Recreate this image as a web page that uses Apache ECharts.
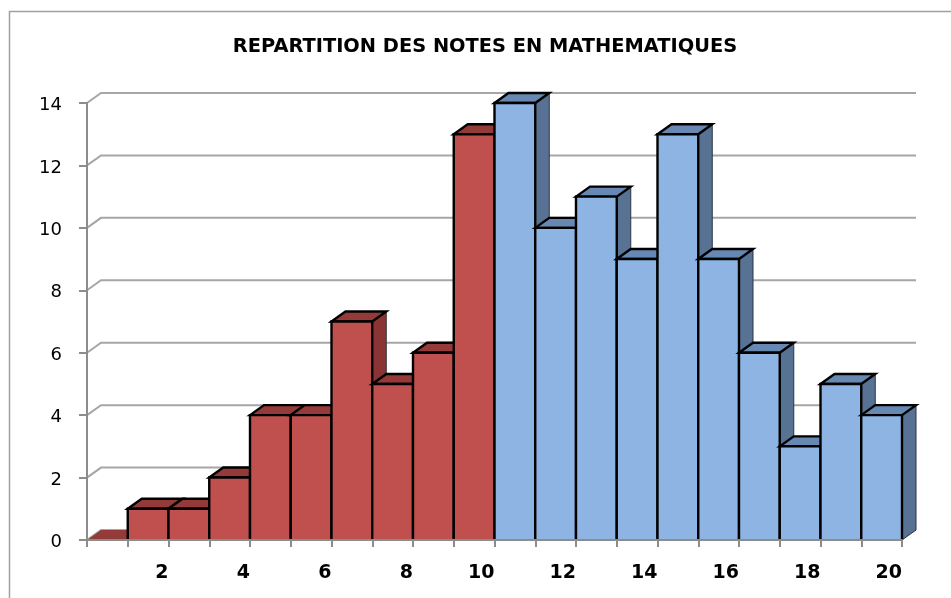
<!DOCTYPE html>
<html>
<head>
<meta charset="utf-8">
<style>
  html, body { margin: 0; padding: 0; background: #fff; }
  #chart { width: 951px; height: 598px; }
</style>
<script src="https://cdn.jsdelivr.net/npm/echarts@6/dist/echarts.min.js"></script>
</head>
<body>
<div id="chart"></div>
<script>
const notes = [1, 2, 3, 4, 5, 6, 7, 8, 9, 10, 11, 12, 13, 14, 15, 16, 17, 18, 19, 20];
const effectifs = [0, 1, 1, 2, 4, 4, 7, 5, 6, 13, 14, 10, 11, 9, 13, 9, 6, 3, 5, 4];
const yTicks = [0, 2, 4, 6, 8, 10, 12, 14];

// fake 3D depth, in pixels
const DX = 14;
const DY = -10;
const red = { front: "#C0504D", top: "#943A38", side: "#8A3533" };
const blue = { front: "#8DB4E3", top: "#6688B3", side: "#587294" };

function renderWall(params, api) {
  const p = api.coord([0, api.value(1)]);
  const end = api.coord([20, api.value(1)]);
  return {
    type: "polyline",
    shape: { points: [p, [p[0] + DX, p[1] + DY], [end[0] + DX, end[1] + DY]] },
    style: { fill: null, stroke: "#A6A6A6", lineWidth: 2 }
  };
}

function renderBar(params, api) {
  const note = api.value(0);
  const val = api.value(1);
  const c = note <= 10 ? red : blue;
  const a = api.coord([note - 1, val]);
  const b = api.coord([note, val]);
  const a0 = api.coord([note - 1, 0]);
  const b0 = api.coord([note, 0]);
  const edge = val > 0 ? "#000" : null;
  return {
    type: "group",
    children: [
      {
        type: "polygon",
        shape: { points: [b, [b[0] + DX, b[1] + DY], [b0[0] + DX, b0[1] + DY], b0] },
        style: { fill: c.side, stroke: "#2b3440", lineWidth: 1 }
      },
      {
        type: "polygon",
        shape: { points: [a, [a[0] + DX, a[1] + DY], [b[0] + DX, b[1] + DY], b] },
        style: { fill: c.top, stroke: edge, lineWidth: 2.4 }
      },
      {
        type: "polygon",
        shape: { points: [a0, a, b, b0] },
        style: { fill: c.front }
      },
      {
        type: "polyline",
        shape: { points: [a0, a, b, b0] },
        style: { fill: null, stroke: edge, lineWidth: 2.4 }
      }
    ]
  };
}

const chart = echarts.init(document.getElementById("chart"));
chart.setOption({
  animation: false,
  backgroundColor: "#fff",
  title: {
    text: "REPARTITION DES NOTES EN MATHEMATIQUES",
    left: 480,
    top: 32,
    textAlign: "center",
    textStyle: { fontFamily: "DejaVu Sans", fontWeight: "bold", fontSize: 19.4, color: "#000" }
  },
  graphic: [
    {
      type: "polyline",
      shape: { points: [[9.5, 598], [9.5, 11.5], [951, 11.5]] },
      style: { fill: null, stroke: "#A0A0A0", lineWidth: 1.5 }
    }
  ],
  grid: { left: 87, right: 49, top: 103, bottom: 58 },
  xAxis: {
    type: "value",
    min: 0,
    max: 20,
    interval: 1,
    z: 5,
    splitLine: { show: false },
    axisLine: { show: true, lineStyle: { color: "#8C8C8C", width: 2 } },
    axisTick: { show: true, length: 7, inside: false, lineStyle: { color: "#8C8C8C", width: 2 } },
    axisLabel: {
      margin: 24,
      align: "right",
      fontFamily: "DejaVu Sans",
      fontWeight: "bold",
      fontSize: 19,
      color: "#000",
      formatter: v => (v > 0 && v % 2 === 0 ? String(v) : "")
    }
  },
  yAxis: {
    type: "value",
    min: 0,
    max: 14,
    interval: 2,
    z: 5,
    splitLine: { show: false },
    axisLine: { show: true, lineStyle: { color: "#8C8C8C", width: 2 } },
    axisTick: { show: true, length: 8, lineStyle: { color: "#8C8C8C", width: 2 } },
    axisLabel: { margin: 25, verticalAlign: "top", lineHeight: 5, fontFamily: "DejaVu Sans", fontSize: 18, color: "#000" }
  },
  series: [
    {
      type: "custom",
      z: 1,
      clip: false,
      silent: true,
      renderItem: renderWall,
      data: yTicks.map(v => [0, v])
    },
    {
      type: "custom",
      z: 2,
      clip: false,
      silent: true,
      renderItem: renderBar,
      data: notes.map((n, i) => [n, effectifs[i]])
    }
  ]
});
window.addEventListener("resize", function() {
  chart.resize();
});
</script>
</body>
</html>
